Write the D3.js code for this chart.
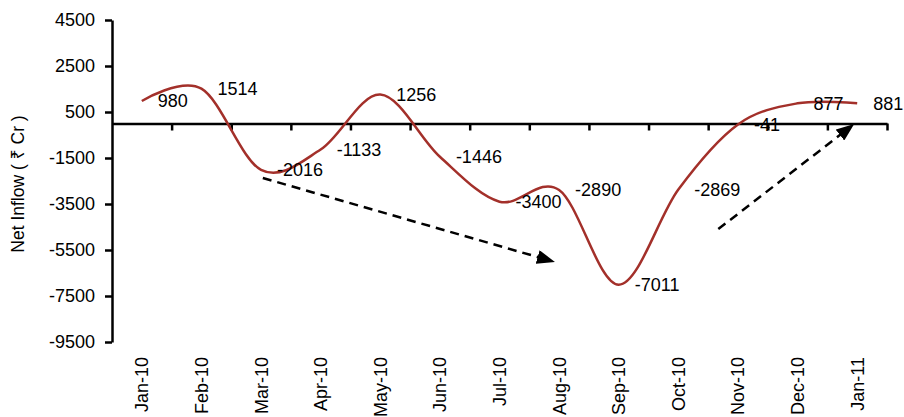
<!DOCTYPE html>
<html>
<head>
<meta charset="utf-8">
<script src="https://cdn.jsdelivr.net/npm/d3@7"></script>
<style>
  html, body { margin: 0; padding: 0; background: #fff; }
  svg { display: block; }
  .num { font-family: "Liberation Sans", Arial, sans-serif; font-size: 18px; fill: #000; }
  .title { font-family: "Liberation Sans", Arial, "Noto Sans", sans-serif; font-size: 17.5px; fill: #000; }
</style>
</head>
<body>
<svg id="chart" width="904" height="417"></svg>
<script>
// ---- data ----
const categories = ["Jan-10","Feb-10","Mar-10","Apr-10","May-10","Jun-10","Jul-10","Aug-10","Sep-10","Oct-10","Nov-10","Dec-10","Jan-11"];
const netInflow = [980, 1514, -2016, -1133, 1256, -1446, -3400, -2890, -7011, -2869, -41, 877, 881];
const yTicks = [4500, 2500, 500, -1500, -3500, -5500, -7500, -9500];
const yTitle = "Net Inflow ( \u20B9 Cr )";
// trend arrows: [category index (fractional), value] start -> end
const arrowStart = [[2.03, -2370], [9.67, -4590]];
const arrowEnd = [[6.93, -6020], [11.95, -22]];

// ---- layout ----
const W = 904, H = 417;
const margin = {left: 112, right: 17, top: 20, bottom: 75};
const svg = d3.select("#chart");

const x = d3.scaleBand().domain(categories).range([margin.left, W - margin.right]).padding(0);
const xi = d3.scaleLinear().domain([0, categories.length]).range([margin.left, W - margin.right]);
const y = d3.scaleLinear().domain([-9500, 4500]).range([H - margin.bottom, margin.top]);
const cx = c => x(c) + x.bandwidth() / 2;

// ---- y axis ----
const yAxis = svg.append("g")
  .attr("transform", `translate(${margin.left},0)`)
  .call(d3.axisLeft(y).tickValues(yTicks).tickFormat(d => String(d)).tickSize(7).tickSizeOuter(0).tickPadding(10));
yAxis.select(".domain").attr("stroke", "#000").attr("stroke-width", 2.5);
yAxis.selectAll(".tick line").attr("stroke", "#000").attr("stroke-width", 2.5);
yAxis.selectAll(".tick text").attr("class", "num").attr("font-family", null).attr("font-size", null);
yAxis.attr("font-family", null).attr("font-size", null);

// ---- x axis (at zero, ticks at band boundaries) ----
const xAxis = svg.append("g")
  .attr("transform", `translate(0,${y(0)})`)
  .call(d3.axisBottom(xi).tickValues(d3.range(1, categories.length + 1)).tickFormat("").tickSize(7).tickSizeOuter(0));
xAxis.select(".domain").attr("stroke", "#000").attr("stroke-width", 2.5);
xAxis.selectAll(".tick line").attr("stroke", "#000").attr("stroke-width", 2.5);

// ---- category labels at the bottom ----
const xLab = svg.append("g")
  .attr("transform", `translate(0,${H - margin.bottom})`)
  .call(d3.axisBottom(x).tickSize(0).tickPadding(0));
xLab.attr("font-family", null).attr("font-size", null);
xLab.select(".domain").remove();
xLab.selectAll(".tick text")
  .attr("class", "num")
  .attr("font-family", null).attr("font-size", null)
  .attr("transform", "rotate(-90)")
  .attr("text-anchor", "end")
  .attr("x", -15)
  .attr("y", 0)
  .attr("dy", "0.36em");

// ---- y title ----
svg.append("text")
  .attr("class", "title")
  .attr("transform", `translate(18,${(margin.top + H - margin.bottom) / 2 + 3}) rotate(-90)`)
  .attr("text-anchor", "middle")
  .attr("dy", "0.35em")
  .text(yTitle);

// ---- line ----
const line = d3.line()
  .x((d, i) => cx(categories[i]))
  .y(d => y(d))
  .curve(d3.curveCardinal.tension(0));
svg.append("path")
  .datum(netInflow)
  .attr("fill", "none")
  .attr("stroke", "#A3302A")
  .attr("stroke-width", 2.5)
  .attr("d", line);

// ---- data labels ----
svg.append("g").selectAll("text")
  .data(netInflow)
  .join("text")
  .attr("class", "num")
  .attr("x", (d, i) => cx(categories[i]) + 16)
  .attr("y", d => y(d))
  .attr("dy", "0.36em")
  .text(d => d);

// ---- arrows ----
const defs = svg.append("defs");
defs.append("marker")
  .attr("id", "ah")
  .attr("viewBox", "0 0 18 14")
  .attr("refX", 6).attr("refY", 7)
  .attr("markerWidth", 18).attr("markerHeight", 14)
  .attr("markerUnits", "userSpaceOnUse")
  .attr("orient", "auto")
  .append("path").attr("d", "M0,0 L18,7 L0,14 Z").attr("fill", "#000");

arrowStart.forEach((s, k) => {
  const e = arrowEnd[k];
  const x0 = xi(s[0] + 0.5), y0 = y(s[1]);
  const x1 = xi(e[0] + 0.5), y1 = y(e[1]);
  const len = Math.hypot(x1 - x0, y1 - y0);
  const ux = (x1 - x0) / len, uy = (y1 - y0) / len;
  svg.append("line")
    .attr("x1", x0).attr("y1", y0)
    .attr("x2", x1 - ux * 12).attr("y2", y1 - uy * 12)
    .attr("stroke", "#000")
    .attr("stroke-width", 2.5)
    .attr("stroke-dasharray", "9,6")
    .attr("marker-end", "url(#ah)");
});
</script>
</body>
</html>
